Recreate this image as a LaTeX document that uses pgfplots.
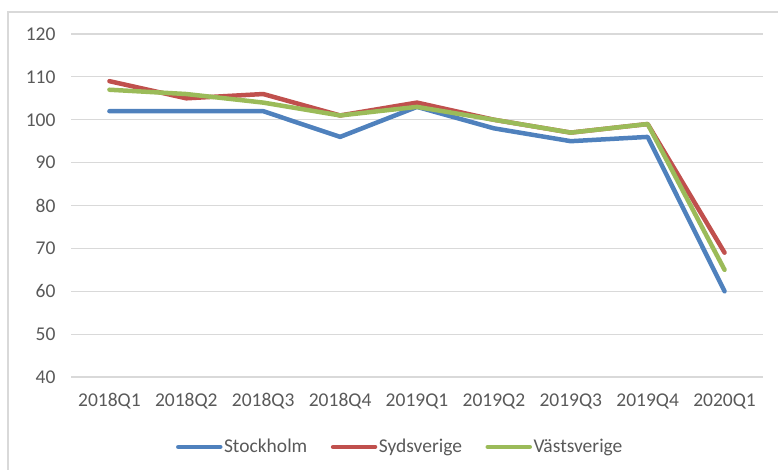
\documentclass[border=0pt]{standalone}
\usepackage{pgfplots}
\pgfplotsset{compat=1.18}
\usepackage{fontspec}
\setmainfont{Carlito}
\definecolor{txt}{HTML}{595959}
\definecolor{gridc}{HTML}{D9D9D9}
\definecolor{sblue}{HTML}{4F81BD}
\definecolor{sred}{HTML}{C0504D}
\definecolor{sgreen}{HTML}{9BBB59}
\begin{document}
\begin{tikzpicture}
\useasboundingbox (0pt,0pt) rectangle (778pt,470pt);
\draw[draw=gridc, line width=1.5pt] (8pt,-10pt) -- (8pt,458pt) -- (790pt,458pt);
\begin{axis}[
  at={(71pt,93pt)}, anchor=south west,
  scale only axis, width=692pt, height=343pt,
  xmin=-0.5, xmax=8.5, ymin=40, ymax=120,
  axis line style={draw=none},
  ymajorgrids, grid style={gridc, line width=1.2pt},
  xtick={0,...,8},
  xticklabels={2018Q1,2018Q2,2018Q3,2018Q4,2019Q1,2019Q2,2019Q3,2019Q4,2020Q1},
  ytick={40,50,...,120},
  major tick length=0pt,
  /pgf/number format/assume math mode=true,
  tick label style={font=\fontsize{19.5}{22}\selectfont, text=txt},
  yticklabel style={xshift=-12pt},
  xticklabel style={yshift=-13pt},
  clip=false,
  legend columns=3,
  legend style={at={(axis description cs:0.4754,-0.204)}, anchor=center, draw=none, fill=none,
    font=\fontsize{19.5}{22}\selectfont, text=txt,
    /tikz/every even column/.append style={column sep=22pt},
    nodes={inner xsep=1.5pt}},
  legend image code/.code={\draw[#1, line cap=round] (0pt,0pt) -- (42pt,0pt);},
  every axis plot/.append style={line width=4.5pt, line join=round, line cap=round},
]
\addplot[sblue] coordinates {(0,102) (1,102) (2,102) (3,96) (4,103) (5,98) (6,95) (7,96) (8,60)};
\addlegendentry{Stockholm}
\addplot[sred] coordinates {(0,109) (1,105) (2,106) (3,101) (4,104) (5,100) (6,97) (7,99) (8,69)};
\addlegendentry{Sydsverige}
\addplot[sgreen] coordinates {(0,107) (1,106) (2,104) (3,101) (4,103) (5,100) (6,97) (7,99) (8,65)};
\addlegendentry{Västsverige}
\end{axis}
\end{tikzpicture}
\end{document}
